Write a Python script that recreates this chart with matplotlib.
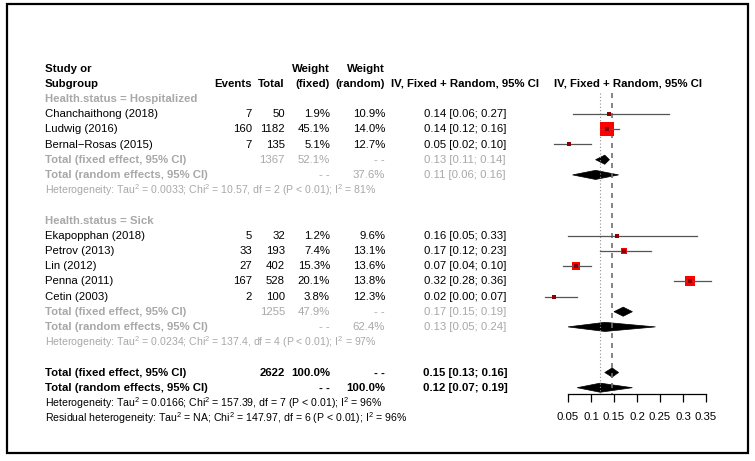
import matplotlib
matplotlib.use("Agg")
import matplotlib.pyplot as plt
from matplotlib.patches import Rectangle, Polygon

plt.rcParams['font.family'] = ['Liberation Sans', 'DejaVu Sans']
plt.rcParams['mathtext.fontset'] = 'custom'
plt.rcParams['mathtext.rm'] = 'Liberation Sans'
plt.rcParams['mathtext.it'] = 'Liberation Sans:italic'
plt.rcParams['mathtext.bf'] = 'Liberation Sans:bold'

# ---------------- data ----------------
group_names = ["Health.status = Hospitalized", "Health.status = Sick"]
studies = [["Chanchaithong (2018)", "Ludwig (2016)", "Bernal\u2212Rosas (2015)"],
           ["Ekapopphan (2018)", "Petrov (2013)", "Lin (2012)", "Penna (2011)", "Cetin (2003)"]]
events = [[7, 160, 7], [5, 33, 27, 167, 2]]
totals = [[50, 1182, 135], [32, 193, 402, 528, 100]]
w_fixed = [[1.9, 45.1, 5.1], [1.2, 7.4, 15.3, 20.1, 3.8]]
w_random = [[10.9, 14.0, 12.7], [9.6, 13.1, 13.6, 13.8, 12.3]]
est = [[0.14, 0.135, 0.052], [0.156, 0.171, 0.067, 0.316, 0.02]]
ci_lo = [[0.06, 0.12, 0.02], [0.05, 0.12, 0.04, 0.28, 0.00]]
ci_hi = [[0.27, 0.16, 0.10], [0.33, 0.23, 0.10, 0.36, 0.07]]

sub_total_n = [1367, 1255]
sub_wfixed = [52.1, 47.9]
sub_wrandom = [37.6, 62.4]
sub_fixed = [(0.13, 0.11, 0.14), (0.17, 0.15, 0.19)]
sub_random = [(0.11, 0.06, 0.16), (0.13, 0.05, 0.24)]
sub_het = [("0.0033", "10.57", 2, "81%"), ("0.0234", "137.4", 4, "97%")]

overall_n = 2622
overall_fixed = (0.146, 0.13, 0.16)
overall_random = (0.12, 0.07, 0.19)
overall_het = ("0.0166", "157.39", 7, "96%")
resid_het = ("NA", "147.97", 6, "96%")

xticks = [0.05, 0.1, 0.15, 0.2, 0.25, 0.3, 0.35]
xtick_labels = ["0.05", "0.1", "0.15", "0.2", "0.25", "0.3", "0.35"]

# ---------------- layout ----------------
W, H = 755, 461
fig = plt.figure(figsize=(W / 100, H / 100), dpi=100)
Y0, DY = 68.5, 15.2          # pixel y of row 0, row spacing
def ypx(k):
    return Y0 + DY * k

ax = fig.add_axes([0, 0, 1, 1])
ax.set_xlim(0, W)
ax.set_ylim(H, 0)
ax.axis('off')

# forest axes: x px 540..740, y px 60..394 ; data: 0.05 -> 568px, 0.35 -> 706px
PX_PER = 460.0
def px2x(p):
    return 0.05 + (p - 568) / PX_PER
fx0, fx1, fy0, fy1 = 540, 740, 60, 394
fax = fig.add_axes([fx0 / W, 1 - fy1 / H, (fx1 - fx0) / W, (fy1 - fy0) / H])
fax.set_xlim(px2x(fx0), px2x(fx1))
fax.set_ylim((fy1 - Y0) / DY, (fy0 - Y0) / DY)
fax.patch.set_visible(False)
for s in ['top', 'left', 'right']:
    fax.spines[s].set_visible(False)
fax.spines['bottom'].set_bounds(xticks[0], xticks[-1])
fax.spines['bottom'].set_linewidth(0.9)
fax.set_yticks([])
fax.set_xticks(xticks)
fax.set_xticklabels(xtick_labels, fontsize=8.2)
fax.tick_params(axis='x', length=6, width=0.9, pad=7)

FS = 8.2
FSH = 7.6
GRAY = '#a8a8a8'
C_EV, C_TOT, C_WF, C_WR, C_CI = 252, 285, 330, 385, 465
XL = 45
DASH = "- -"

def txt(x, k, s, ha='left', color='black', bold=False, size=FS):
    ax.text(x, ypx(k), s, ha=ha, va='center', color=color,
            fontweight='bold' if bold else 'normal', fontsize=size)

def fmt_ci(t):
    return f"{t[0]:.2f} [{t[1]:.2f}; {t[2]:.2f}]"

def het_str(h, prefix="Heterogeneity"):
    tau, chi, df, i2 = h
    return (prefix + ": Tau$^{\\mathrm{2}}$ = " + tau + "; Chi$^{\\mathrm{2}}$ = " + chi +
            ", df = " + str(df) + " (P < 0.01); I$^{\\mathrm{2}}$ = " + i2)

# header
txt(XL, 0, "Study or", bold=True)
txt(XL, 1, "Subgroup", bold=True)
txt(C_EV, 1, "Events", ha='right', bold=True)
txt(C_TOT, 1, "Total", ha='right', bold=True)
txt(C_WF, 0, "Weight", ha='right', bold=True)
txt(C_WF, 1, "(fixed)", ha='right', bold=True)
txt(C_WR, 0, "Weight", ha='right', bold=True)
txt(C_WR, 1, "(random)", ha='right', bold=True)
txt(C_CI, 1, "IV, Fixed + Random, 95% CI", ha='center', bold=True)
txt(628, 1, "IV, Fixed + Random, 95% CI", ha='center', bold=True)

DIA_H = 0.3
def diamond(t, k, color='black'):
    e, l, h = t
    fax.add_patch(Polygon([(l, k), (e, k - DIA_H), (h, k), (e, k + DIA_H)],
                          closed=True, facecolor=color, edgecolor=color, lw=0.5))

MAXW = max(max(w) for w in w_fixed)
k = 2
for g in range(len(group_names)):
    txt(XL, k, group_names[g], color=GRAY, bold=True)
    k += 1
    for i, name in enumerate(studies[g]):
        txt(XL, k, name)
        txt(C_EV, k, str(events[g][i]), ha='right')
        txt(C_TOT, k, str(totals[g][i]), ha='right')
        txt(C_WF, k, f"{w_fixed[g][i]:.1f}%", ha='right')
        txt(C_WR, k, f"{w_random[g][i]:.1f}%", ha='right')
        txt(C_CI, k, fmt_ci((est[g][i], ci_lo[g][i], ci_hi[g][i])), ha='center')
        side = 10.0 * (w_fixed[g][i] / MAXW) ** 0.5
        fax.plot(est[g][i], k, marker='s', ms=max(side, 2.2), color='#ff0000',
                 mec='#ff0000', mew=0, ls='none', zorder=3)
        fax.plot([ci_lo[g][i], ci_hi[g][i]], [k, k], color='#555555', lw=0.9, zorder=4)
        fax.plot(est[g][i], k, marker='s', ms=2.2, color='#8b0000', mew=0, ls='none', zorder=5)
        k += 1
    txt(XL, k, "Total (fixed effect, 95% CI)", color=GRAY, bold=True)
    txt(C_TOT, k, str(sub_total_n[g]), ha='right', color=GRAY)
    txt(C_WF, k, f"{sub_wfixed[g]:.1f}%", ha='right', color=GRAY)
    txt(C_WR, k, DASH, ha='right', color=GRAY)
    txt(C_CI, k, fmt_ci(sub_fixed[g]), ha='center', color=GRAY)
    diamond(sub_fixed[g], k)
    k += 1
    txt(XL, k, "Total (random effects, 95% CI)", color=GRAY, bold=True)
    txt(C_WF, k, DASH, ha='right', color=GRAY)
    txt(C_WR, k, f"{sub_wrandom[g]:.1f}%", ha='right', color=GRAY)
    txt(C_CI, k, fmt_ci(sub_random[g]), ha='center', color=GRAY)
    diamond(sub_random[g], k)
    k += 1
    txt(XL, k, het_str(sub_het[g]), color=GRAY, size=FSH)
    k += 2

k = 20
txt(XL, k, "Total (fixed effect, 95% CI)", bold=True)
txt(C_TOT, k, str(overall_n), ha='right', bold=True)
txt(C_WF, k, "100.0%", ha='right', bold=True)
txt(C_WR, k, DASH, ha='right', bold=True)
txt(C_CI, k, fmt_ci(overall_fixed), ha='center', bold=True)
diamond(overall_fixed, k)
txt(XL, k + 1, "Total (random effects, 95% CI)", bold=True)
txt(C_WF, k + 1, DASH, ha='right', bold=True)
txt(C_WR, k + 1, "100.0%", ha='right', bold=True)
txt(C_CI, k + 1, fmt_ci(overall_random), ha='center', bold=True)
diamond(overall_random, k + 1)
txt(XL, k + 2, het_str(overall_het), size=FSH)
txt(XL, k + 3, het_str(resid_het, "Residual heterogeneity"), size=FSH)

# reference lines
ytop = 1.6
ybot = fax.get_ylim()[0]
fax.plot([overall_random[0]] * 2, [ytop, ybot], color='#909090', lw=0.8, ls=(0, (1, 2)), zorder=1)
fax.plot([overall_fixed[0]] * 2, [ytop, ybot], color='#707070', lw=1.2, ls=(0, (3, 3)), zorder=1)

# frame
ax.add_patch(Rectangle((7, 4), 741, 449, fill=False, edgecolor='black', lw=1.6))

fig.savefig("out.png", dpi=100)
